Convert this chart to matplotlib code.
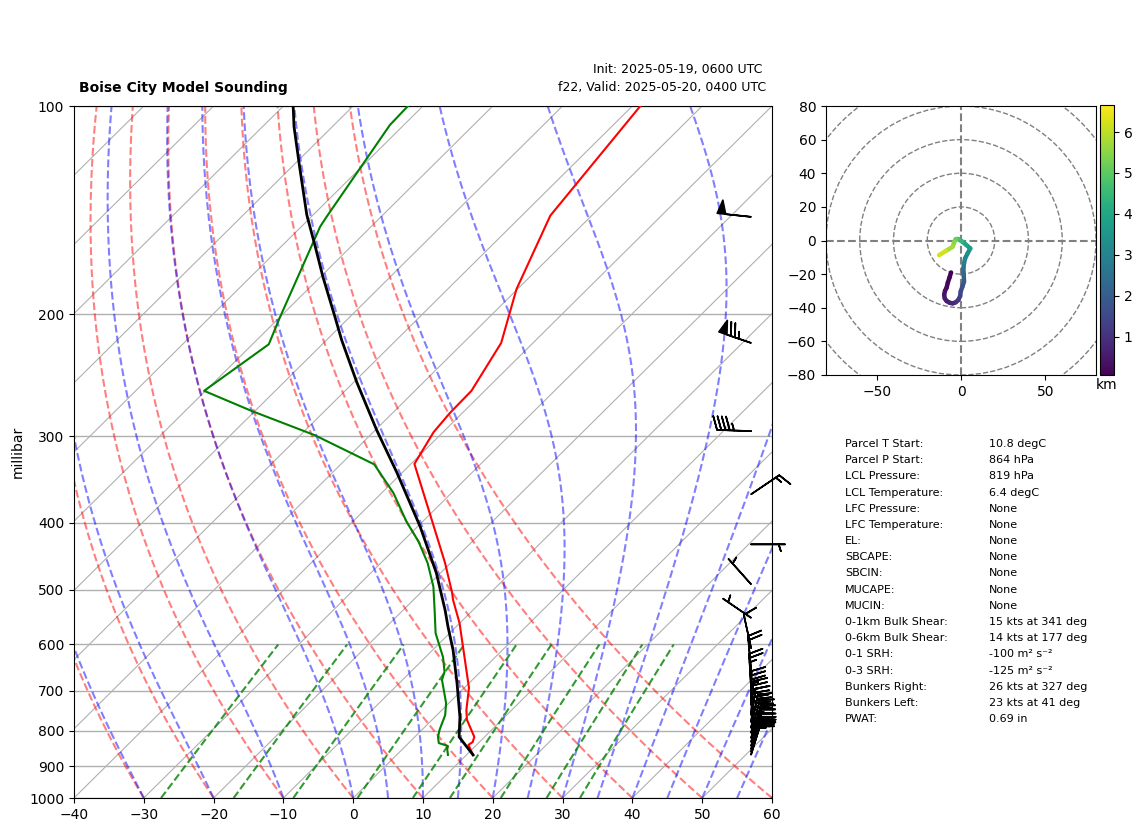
import numpy as np
import matplotlib
matplotlib.use('Agg')
import matplotlib.pyplot as plt
from matplotlib.collections import LineCollection
from matplotlib.patches import Circle

# sounding profiles (hPa, degC)
temp_p = [866.5, 838, 830, 816, 771, 746, 693, 675, 559, 517, 505, 457.5, 387.6, 329, 296, 278, 258, 220, 184, 144, 100]
temp_c = [10.95, 8.83, 9.03, 8.52, 5.0, 3.49, 0.66, -0.65, -10.02, -14.35, -15.5, -20.8, -30.2, -39.51, -41.35, -41.78, -41.9, -44.56, -50.13, -55.92, -58.86]

dewp_p = [866.5, 847, 841, 833, 816, 797, 759, 729, 675, 657, 626, 578, 535, 495, 457.5, 426, 398.7, 362.5, 329.5, 299, 276, 258, 221, 202.5, 149.4, 144.6, 106.5, 100]
dewp_c = [7.35, 6.24, 6.04, 4.33, 3.32, 2.52, 1.2, -0.42, -4.35, -5.16, -7.47, -12.0, -15.5, -19.05, -23.3, -27.7, -32.3, -38.3, -45.2, -57.95, -70.4, -80.2, -77.66, -79.9, -87.3, -87.8, -92, -92.15]

parcel_p = [866.5, 816, 764, 682, 611, 566, 535, 473, 405.5, 339, 294, 251, 218, 201.5, 176.4, 159.7, 143.7, 122.4, 107.1, 100]
parcel_c = [10.95, 6.34, 3.6, -1.75, -7.09, -11.13, -14.0, -20.6, -29.6, -40.7, -49.8, -59.5, -67.8, -72.2, -79.7, -85.1, -90.9, -98.9, -105.5, -108.6]

# wind barbs (hPa, knots)
wind_p = [866, 858, 850, 841, 830, 819, 805, 792, 777, 759, 734, 693, 653, 607, 549, 491, 430, 364, 295, 220, 144.6]
wind_u = [-5.9, -7, -8, -8.8, -9.5, -10, -9.5, -7.5, -5, -2.5, -0.5, 1.5, 1.7, 2.4, 4.1, 3.3, -5, -12.4, 45, 70.9, 49.7]
wind_v = [-19, -22, -25, -28, -31, -33, -35.5, -37, -37.4, -36, -33, -26, -19, -11, -2.8, -3.7, 0, -8.4, -1.6, -24.4, -5.2]

# hodograph trace
hodo_u = [-5.9, -6.8, -7.8, -8.5, -9.5, -10, -9.6, -8.5, -6.8, -5, -3.2, -1.6, -0.5, -0.2, 0.8, 1.8, 1.6, 1.4, 1.8, 2.4, 4, 5.5, 3, 0.5, -1.6, -3.2, -4, -5, -9, -13]
hodo_v = [-19, -22, -25, -28, -30, -32.4, -34.5, -36, -37, -37.4, -36.8, -35.4, -33, -30.4, -27.5, -24.5, -20, -16.6, -13.5, -10.7, -7.5, -4.7, -2.5, -0.5, 0.8, 0.8, -1, -3.8, -6.2, -8.7]
hodo_km = [0.06, 0.12, 0.18, 0.25, 0.33, 0.4, 0.5, 0.6, 0.7, 0.8, 0.95, 1.1, 1.3, 1.5, 1.75, 2.0, 2.3, 2.6, 2.9, 3.1, 3.4, 3.7, 4.0, 4.4, 4.8, 5.2, 5.5, 5.8, 6.2, 6.66]

# text table
table_names = ['Parcel T Start:', 'Parcel P Start:', 'LCL Pressure:', 'LCL Temperature:', 'LFC Pressure:',
               'LFC Temperature:', 'EL:', 'SBCAPE:', 'SBCIN:', 'MUCAPE:', 'MUCIN:', '0-1km Bulk Shear:',
               '0-6km Bulk Shear:', '0-1 SRH:', '0-3 SRH:', 'Bunkers Right:', 'Bunkers Left:', 'PWAT:']
table_values = ['10.8 degC', '864 hPa', '819 hPa', '6.4 degC', 'None', 'None', 'None', 'None', 'None', 'None', 'None',
                '15 kts at 341 deg', '14 kts at 177 deg', '-100 m\u00b2 s\u207b\u00b2', '-125 m\u00b2 s\u207b\u00b2',
                '26 kts at 327 deg', '23 kts at 41 deg', '0.69 in']

# reference lines of the diagram
dry_t0 = np.arange(-40, 61, 10)
moist_t0 = np.concatenate((np.arange(-40, 0, 10), np.arange(0, 61, 5)))
mixing_w = [0.0004, 0.001, 0.002, 0.004, 0.007, 0.01, 0.016, 0.024, 0.032]
p_levels = [100, 200, 300, 400, 500, 600, 700, 800, 900, 1000]

W, H = 1142, 832
fig = plt.figure(figsize=(W / 100, H / 100), dpi=100)


def px_axes(left, top, right, bottom):
    return fig.add_axes([left / W, 1 - bottom / H, (right - left) / W, (bottom - top) / H])


ax = px_axes(74, 106, 772, 798)

# isotherms lean right by this many degC per decade of pressure
skew = 100.0


def skewed(t, p):
    return np.asarray(t, dtype=float) + skew * np.log10(1000.0 / np.asarray(p, dtype=float))


def sat_vap(t_c):
    return 6.112 * np.exp(17.67 * t_c / (t_c + 243.5))


def moist_curve(t0, p):
    # integrate the moist lapse rate in small log p steps
    t = t0 + 273.15
    out = [t]
    for p1, p2 in zip(p[:-1], p[1:]):
        es = sat_vap(t - 273.15)
        r = 0.622 * es / (p1 - es)
        dt = (287.0 * t + 2.501e6 * r) / (1005.0 + 2.501e6 ** 2 * r * 0.622 / (287.0 * t ** 2))
        t = t + dt * np.log(p2 / p1)
        out.append(t)
    return np.array(out) - 273.15


p_line = np.linspace(1000, 100, 200)

for t in np.arange(-200, 61, 10):
    ax.plot(skewed([t, t], [1000, 100]), [1000, 100], color='#b0b0b0', lw=0.8, zorder=1)
for t in dry_t0:
    ax.plot(skewed((t + 273.15) * (p_line / 1000.0) ** 0.2854 - 273.15, p_line), p_line, color='r', ls='--', lw=1.5,
            alpha=0.5, zorder=2)
for t in moist_t0:
    ax.plot(skewed(moist_curve(t, p_line), p_line), p_line, color='b', ls='--', lw=1.5, alpha=0.5, zorder=2)
p_mix = np.linspace(1000, 600, 50)
for w in mixing_w:
    e = np.log(p_mix * w / (0.622 + w) / 6.112)
    ax.plot(skewed(243.5 * e / (17.67 - e), p_mix), p_mix, color='g', ls='--', lw=1.5, alpha=0.8, zorder=2)

ax.plot(skewed(temp_c, temp_p), temp_p, color='r', lw=1.5, zorder=4)
ax.plot(skewed(dewp_c, dewp_p), dewp_p, color='g', lw=1.5, zorder=4)
ax.plot(skewed(parcel_c, parcel_p), parcel_p, color='k', lw=2, zorder=5)

ax.barbs(np.full(len(wind_p), 0.97), wind_p, wind_u, wind_v, transform=ax.get_yaxis_transform(), clip_on=False,
         zorder=6, lw=1.2)

ax.set_yscale('log')
ax.set_ylim(1000, 100)
ax.set_xlim(-40, 60)
ax.set_xticks(np.arange(-40, 61, 10))
ax.set_yticks(p_levels)
ax.set_yticklabels([str(p) for p in p_levels])
ax.minorticks_off()
ax.yaxis.grid(True, color='#b0b0b0', lw=1, zorder=1)
ax.set_axisbelow(True)
ax.set_ylabel('millibar', labelpad=3)

# titles
fig.text(79 / W, 1 - 88 / H, 'Boise City Model Sounding', fontsize=10, fontweight='bold', ha='left', va='center')
fig.text(762 / W, 1 - 70 / H, 'Init: 2025-05-19, 0600 UTC', fontsize=9, ha='right', va='center')
fig.text(766 / W, 1 - 88 / H, 'f22, Valid: 2025-05-20, 0400 UTC', fontsize=9, ha='right', va='center')

# hodograph
hodo = px_axes(826, 106, 1096, 375)
for r in range(20, 121, 20):
    hodo.add_patch(Circle((0, 0), r, fill=False, color='grey', ls='--', lw=1))
hodo.axhline(0, color='grey', ls='--', lw=1.5)
hodo.axvline(0, color='grey', ls='--', lw=1.5)
points = np.column_stack([hodo_u, hodo_v])
segments = np.stack([points[:-1], points[1:]], axis=1)
lc = LineCollection(segments, cmap='viridis', norm=plt.Normalize(min(hodo_km), max(hodo_km)), lw=3.2,
                    capstyle='round', zorder=3)
lc.set_array(np.array(hodo_km[:-1]))
hodo.add_collection(lc)
hodo.set_xlim(-80, 80)
hodo.set_ylim(-80, 80)
hodo.set_xticks([-50, 0, 50])
hodo.set_yticks(np.arange(-80, 81, 20))

cax = px_axes(1100, 105, 1114, 375)
cb = fig.colorbar(lc, cax=cax)
cb.set_ticks([1, 2, 3, 4, 5, 6])
cax.set_xlabel('km', labelpad=2)

# table under the hodograph
for i, (name, value) in enumerate(zip(table_names, table_values)):
    y = 444 + i * 16.18
    fig.text(845 / W, 1 - y / H, name, fontsize=8, ha='left', va='center')
    fig.text(989 / W, 1 - y / H, value, fontsize=8, ha='left', va='center')

fig.savefig('out.png', dpi=100)
